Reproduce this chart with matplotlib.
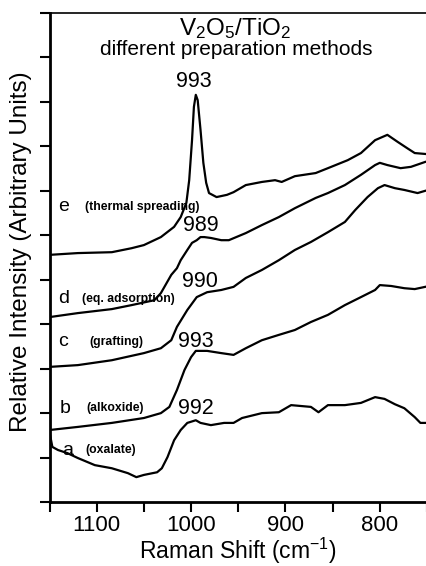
import numpy as np
import matplotlib.pyplot as plt

plt.rcParams['font.family'] = ['Liberation Sans', 'DejaVu Sans']
plt.rcParams['mathtext.fontset'] = 'custom'
plt.rcParams['mathtext.rm'] = 'Liberation Sans'
plt.rcParams['mathtext.default'] = 'regular'

# spectra (wavenumber cm-1, relative intensity)
e_x = [1150, 1120, 1084, 1063, 1050, 1032, 1018, 1011, 1005, 1002, 999, 997, 995, 993, 990, 987, 984, 981, 973, 962,
       955, 942, 925, 911, 904, 890, 868, 855, 834, 820, 805, 792, 781, 771, 763, 752]
e_y = [5.56, 5.60, 5.62, 5.71, 5.78, 5.96, 6.19, 6.41, 6.73, 7.24, 8.14, 8.89, 9.16, 9.04, 8.37, 7.63, 7.18, 6.95, 6.86, 6.91,
       6.97, 7.13, 7.20, 7.24, 7.20, 7.33, 7.40, 7.51, 7.69, 7.85, 8.14, 8.26, 8.10, 7.96, 7.85, 7.83]

d_x = [1150, 1120, 1084, 1063, 1039, 1032, 1021, 1015, 1011, 1004, 999, 994, 990, 986, 979, 968, 960, 942, 925, 907,
       890, 868, 855, 837, 820, 805, 800, 792, 778, 767, 752]
d_y = [4.16, 4.25, 4.34, 4.43, 4.54, 4.70, 5.11, 5.26, 5.44, 5.67, 5.83, 5.89, 5.96, 5.96, 5.94, 5.89, 5.89, 6.05, 6.23, 6.41,
       6.61, 6.84, 6.95, 7.13, 7.36, 7.58, 7.63, 7.58, 7.51, 7.54, 7.65]

c_x = [1150, 1120, 1084, 1050, 1032, 1021, 1015, 1004, 994, 983, 968, 955, 942, 925, 907, 890, 873, 855, 837, 826,
       813, 802, 795, 784, 774, 760, 752]
c_y = [3.04, 3.08, 3.19, 3.35, 3.46, 3.64, 3.94, 4.32, 4.61, 4.72, 4.77, 4.84, 5.04, 5.22, 5.44, 5.67, 5.85, 6.07, 6.30, 6.57,
       6.86, 7.06, 7.13, 7.06, 7.02, 6.95, 7.00]

b_x = [1150, 1120, 1084, 1050, 1032, 1023, 1015, 1007, 1000, 995, 983, 968, 955, 942, 925, 907, 890, 873, 855, 837,
       820, 805, 800, 788, 774, 763, 752]
b_y = [1.62, 1.69, 1.78, 1.89, 2.00, 2.14, 2.52, 2.97, 3.26, 3.40, 3.40, 3.35, 3.31, 3.46, 3.64, 3.76, 3.87, 4.05, 4.21, 4.43,
       4.61, 4.77, 4.88, 4.86, 4.81, 4.79, 4.84]

a_x = [1150, 1147, 1141, 1131, 1120, 1102, 1084, 1067, 1058, 1050, 1036, 1031, 1025, 1018, 1011, 1004, 995, 990, 979, 965,
       955, 946, 925, 907, 894, 873, 865, 855, 837, 820, 805, 795, 784, 774, 763, 757, 752]
a_y = [1.57, 1.24, 1.17, 1.10, 0.99, 0.83, 0.76, 0.65, 0.56, 0.61, 0.67, 0.76, 1.01, 1.39, 1.62, 1.78, 1.84, 1.78, 1.73, 1.78,
       1.78, 1.89, 2.00, 2.02, 2.18, 2.14, 2.02, 2.18, 2.18, 2.23, 2.36, 2.32, 2.20, 2.11, 1.91, 1.78, 1.78]

tick_pos = [1150, 1100, 1050, 1000, 950, 900, 850, 800, 750]
tick_lab = ['', '1100', '', '1000', '', '900', '', '800', '']

# curve labels: letter, method, letter pos, method pos, peak label, peak pos
letters = ['e', 'd', 'c', 'b', 'a']
methods = ['(thermal spreading)', '(eq. adsorption)', '(grafting)', '(alkoxide)', '(oxalate)']
label_y = [6.64, 4.57, 3.60, 2.11, 1.17]
letter_x = [1141, 1141, 1141, 1139, 1137]
method_x = [1112.6, 1115.8, 1107.4, 1110.5, 1111.6]
peaks = ['993', '989', '990', '993', '992']
peak_x = [996.8, 989.5, 990.5, 994.7, 994.7]
peak_y = [9.45, 6.23, 4.95, 3.62, 2.11]

fig = plt.figure(figsize=(4.27, 5.66), dpi=100)
ax = fig.add_axes([0.116, 0.113, 0.884, 0.864])

for xs, ys in [(e_x, e_y), (d_x, d_y), (c_x, c_y), (b_x, b_y), (a_x, a_y)]:
    ax.plot(xs, ys, color='black', lw=1.6)

for i in range(len(letters)):
    ax.text(letter_x[i], label_y[i], letters[i], fontsize=14, ha='left', va='center')
    ax.text(method_x[i], label_y[i], methods[i], fontsize=8.8, fontweight='bold', ha='left', va='center')
    ax.text(peak_x[i], peak_y[i], peaks[i], fontsize=15.5, ha='center', va='center')

ax.text(953.7, 10.66, 'V$_2$O$_5$/TiO$_2$', fontsize=17.5, ha='center', va='center')
ax.text(952.6, 10.17, 'different preparation methods', fontsize=15, ha='center', va='center')

ax.set_xlim(1150, 752)
ax.set_ylim(0, 11)
ax.set_xticks(tick_pos, tick_lab, fontsize=16)
ax.set_yticks(range(12), [])
ax.tick_params(axis='both', direction='out', length=7, width=1.5, pad=2.5)
ax.set_xlabel('Raman Shift (cm$^{-1}$)', fontsize=16.5, labelpad=0)
ax.set_ylabel('Relative Intensity (Arbitrary Units)', fontsize=17.5)
ax.yaxis.set_label_coords(-0.046, 0.511)
for s in ['left', 'bottom']:
    ax.spines[s].set_linewidth(2)
for s in ['top', 'right']:
    ax.spines[s].set_linewidth(1.2)

plt.savefig('out.png', dpi=100)
